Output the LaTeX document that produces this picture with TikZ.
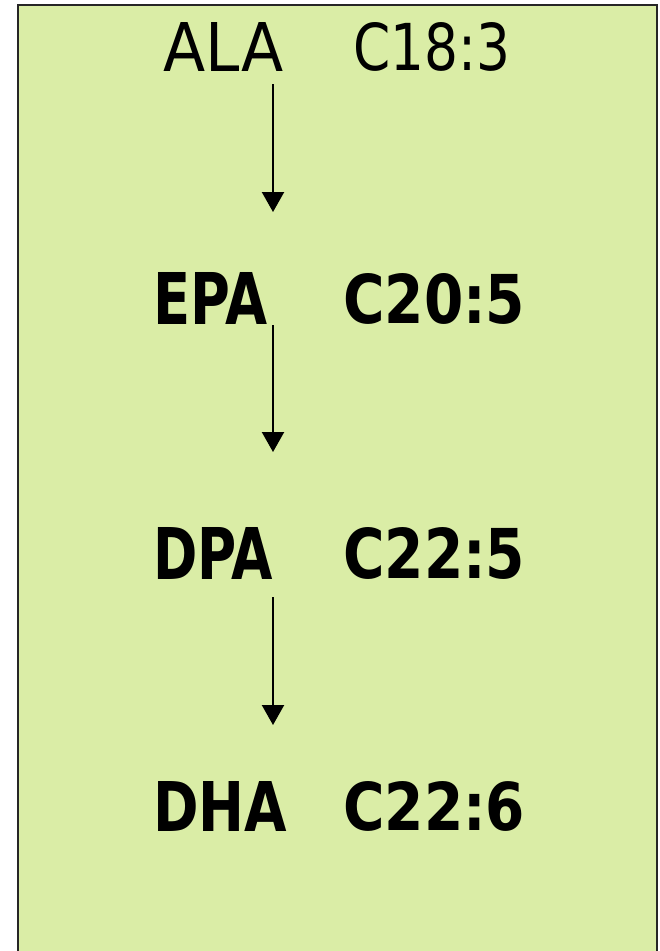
\documentclass[tikz,border=0pt]{standalone}
\usepackage{fontspec}
\setmainfont{DejaVu Sans}
\usetikzlibrary{arrows.meta}
\definecolor{plaid}{RGB}{218,237,166}
\tikzset{
  lbl/.style={inner sep=0pt, anchor=south west, text=black},
  arr/.style={line width=2.2pt, -{Triangle[width=22pt,length=20pt]}},
  frame/.style={draw=black!85, line width=2.5pt, fill=plaid}
}
\newcommand{\fitR}[3]{\resizebox{#1pt}{#2pt}{#3}}
\begin{document}
\begin{tikzpicture}[x=1pt,y=-1pt]
\useasboundingbox (0,0) rectangle (660,951);
\fill[white] (0,0) rectangle (660,951);
\draw[frame] (18,5) -- (657,5) -- (657,960) -- (18,960) -- cycle;
% labels
\node[lbl] (ala) at (163,72) {\fitR{120}{49}{ALA}};
\node[lbl] (c183) at (353,72) {\fitR{157}{48}{C18:3}};
\node[lbl] (epa) at (153,325) {\fitR{114}{52}{\bfseries EPA}};
\node[lbl] (c205) at (343,325) {\fitR{182}{50}{\bfseries C20:5}};
\node[lbl] (dpa) at (153,580) {\fitR{120}{52}{\bfseries DPA}};
\node[lbl] (c225) at (343,580) {\fitR{182}{51}{\bfseries C22:5}};
\node[lbl] (dha) at (153,832) {\fitR{134}{50}{\bfseries DHA}};
\node[lbl] (c226) at (343,832) {\fitR{182}{49}{\bfseries C22:6}};
% arrow ends
\coordinate (a1s) at (273,84);
\coordinate (a1e) at (273,212);
\coordinate (a2s) at (273,325);
\coordinate (a2e) at (273,452);
\coordinate (a3s) at (273,597);
\coordinate (a3e) at (273,725);
\draw[arr] (a1s) -- (a1e);
\draw[arr] (a2s) -- (a2e);
\draw[arr] (a3s) -- (a3e);
\end{tikzpicture}
\end{document}
